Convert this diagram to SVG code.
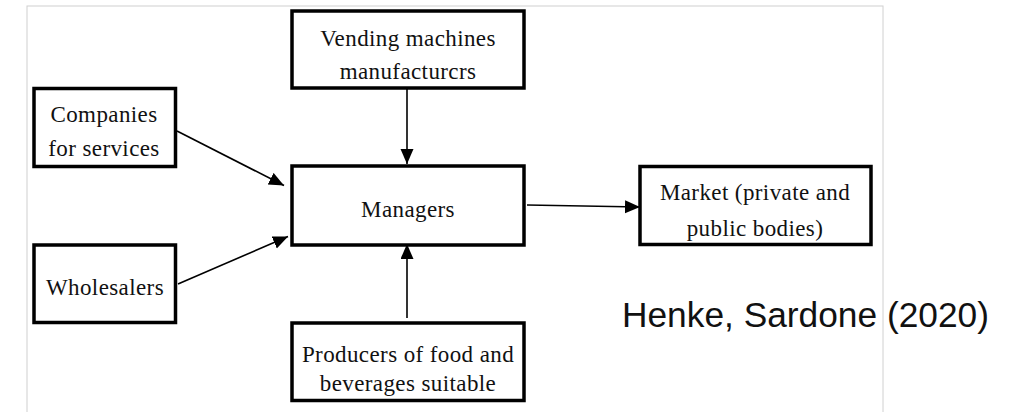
<svg xmlns="http://www.w3.org/2000/svg" width="1009" height="412" viewBox="0 0 1009 412">
<style>
.box{fill:#fff;stroke:#000;stroke-width:3.5}
.lbl{font-family:"Liberation Serif","Times New Roman",serif;font-size:23px;letter-spacing:0.4px;fill:#111;text-anchor:middle}
.conn{stroke:#000;stroke-width:1.6;fill:none}
.cite{font-family:"Liberation Sans",Arial,sans-serif;font-size:35.3px;fill:#111}
</style>
<defs>
<marker id="ah" markerUnits="userSpaceOnUse" markerWidth="16" markerHeight="14" refX="15" refY="6.5" orient="auto">
<path d="M0,0 L15,6.5 L0,13 Z" fill="#000"/>
</marker>
</defs>
<rect x="0" y="0" width="1009" height="412" fill="#fff"/>
<rect x="27" y="6" width="856" height="420" fill="none" stroke="#d0d0d0" stroke-width="1"/>
<g id="connectors">
<line class="conn" x1="177" y1="131" x2="284" y2="185.5" marker-end="url(#ah)"/>
<line class="conn" x1="178" y1="284" x2="288" y2="236.5" marker-end="url(#ah)"/>
<line class="conn" x1="407" y1="89" x2="407" y2="164" marker-end="url(#ah)"/>
<line class="conn" x1="407" y1="318" x2="407" y2="244" marker-end="url(#ah)"/>
<line class="conn" x1="527" y1="205" x2="640" y2="207" marker-end="url(#ah)"/>
</g>
<g id="vending">
<rect class="box" x="292" y="11" width="232" height="77"/>
<text class="lbl" x="408" y="46">Vending machines</text>
<text class="lbl" x="408" y="79">manufacturcrs</text>
</g>
<g id="companies">
<rect class="box" x="34" y="88.5" width="141.5" height="78"/>
<text class="lbl" x="104" y="122">Companies</text>
<text class="lbl" x="104" y="156">for services</text>
</g>
<g id="managers">
<rect class="box" x="292" y="166" width="232" height="79"/>
<text class="lbl" x="408" y="217">Managers</text>
</g>
<g id="market">
<rect class="box" x="640" y="166.5" width="231" height="78"/>
<text class="lbl" x="755" y="200">Market (private and</text>
<text class="lbl" x="755" y="236">public bodies)</text>
</g>
<g id="wholesalers">
<rect class="box" x="34" y="245" width="141.5" height="77.5"/>
<text class="lbl" x="105" y="295">Wholesalers</text>
</g>
<g id="producers">
<rect class="box" x="292" y="323" width="232" height="77.5"/>
<text class="lbl" x="408" y="362">Producers of food and</text>
<text class="lbl" x="408" y="391">beverages suitable</text>
</g>
<text class="cite" x="622" y="327">Henke, Sardone (2020)</text>
</svg>
